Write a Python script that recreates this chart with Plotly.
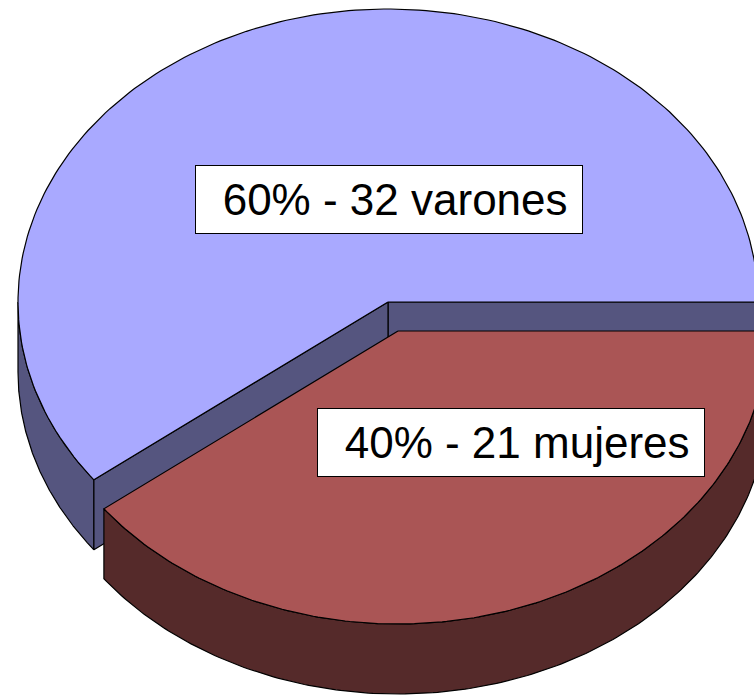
import numpy as np
import plotly.graph_objects as go

# ---- data ----
categories = ["varones", "mujeres"]
counts = [32, 21]
label_texts = ["60% - 32 varones", "40% - 21 mujeres"]

top_colors = {"varones": "#A9A9FF", "mujeres": "#AA5555"}
side_colors = {"varones": "#55557F", "mujeres": "#552A2A"}

# ---- geometry (layout constants) ----
W, H = 754, 697
cx, cy = 388, 302
rx, ry = 370, 293
depth = 70
explode = {"varones": (0, 0), "mujeres": (10, 29)}

total = sum(counts)
frac = {c: v / total for c, v in zip(categories, counts)}
# mujeres starts at angle 0 and goes clockwise (downwards on screen), varones takes the rest
a_split = 360.0 * frac["mujeres"]
ranges = {"mujeres": (0.0, a_split), "varones": (a_split, 360.0)}


def arc(t0, t1, ox=0, oy=0, dz=0, n=200):
    t = np.radians(np.linspace(t0, t1, n))
    return list(cx + ox + rx * np.cos(t)), list(cy + oy + dz + ry * np.sin(t))


fig = go.Figure()


def poly(xs, ys, fill):
    fig.add_trace(go.Scatter(
        x=xs + [xs[0]], y=ys + [ys[0]], mode="lines", fill="toself",
        fillcolor=fill, line=dict(color="black", width=1.2),
        hoverinfo="skip", showlegend=False))


# --- varones (back slice) ---
c = "varones"
ox, oy = explode[c]
t0, t1 = ranges[c]
# visible front side: from split angle to 180 deg
xt, yt = arc(t0, 180, ox, oy)
xb, yb = arc(t0, 180, ox, oy, depth)
poly(xt + xb[::-1], yt + yb[::-1], side_colors[c])
# radial face at angle 0/360
xa, ya = arc(360, 360, ox, oy, n=1)
poly([cx + ox, xa[0], xa[0], cx + ox], [cy + oy, ya[0], ya[0] + depth, cy + oy + depth], side_colors[c])
# radial face at split angle
xs_, ys_ = arc(t0, t0, ox, oy, n=1)
poly([cx + ox, xs_[0], xs_[0], cx + ox], [cy + oy, ys_[0], ys_[0] + depth, cy + oy + depth], side_colors[c])
# top
xt, yt = arc(t0, t1, ox, oy)
poly([cx + ox] + xt, [cy + oy] + yt, top_colors[c])

# --- mujeres (front, exploded slice) ---
c = "mujeres"
ox, oy = explode[c]
t0, t1 = ranges[c]
xt, yt = arc(t0, t1, ox, oy)
xb, yb = arc(t0, t1, ox, oy, depth)
poly(xt + xb[::-1], yt + yb[::-1], side_colors[c])
poly([cx + ox] + xt, [cy + oy] + yt, top_colors[c])

# labels
label_pos = {"varones": (389, 199.5), "mujeres": (511, 442.5)}
for c, txt in zip(categories, label_texts):
    x, y = label_pos[c]
    fig.add_annotation(
        x=x, y=y, xref="x", yref="y", text=" " + txt, showarrow=False,
        font=dict(family="Liberation Sans, Arial, sans-serif", size=44, color="black"),
        bgcolor="white", bordercolor="black", borderwidth=1, borderpad=0,
        width=386, height=67, align="center", valign="middle")

fig.update_layout(
    width=W, height=H, margin=dict(l=0, r=0, t=0, b=0),
    paper_bgcolor="white", plot_bgcolor="white",
    xaxis=dict(range=[0, W], visible=False, fixedrange=True),
    yaxis=dict(range=[H, 0], visible=False, fixedrange=True),
    showlegend=False,
)

fig.write_html(
    "out.html",
    config={"displayModeBar": False, "staticPlot": True},
    post_script="document.body.style.margin='0';document.body.style.overflow='hidden';",
)
